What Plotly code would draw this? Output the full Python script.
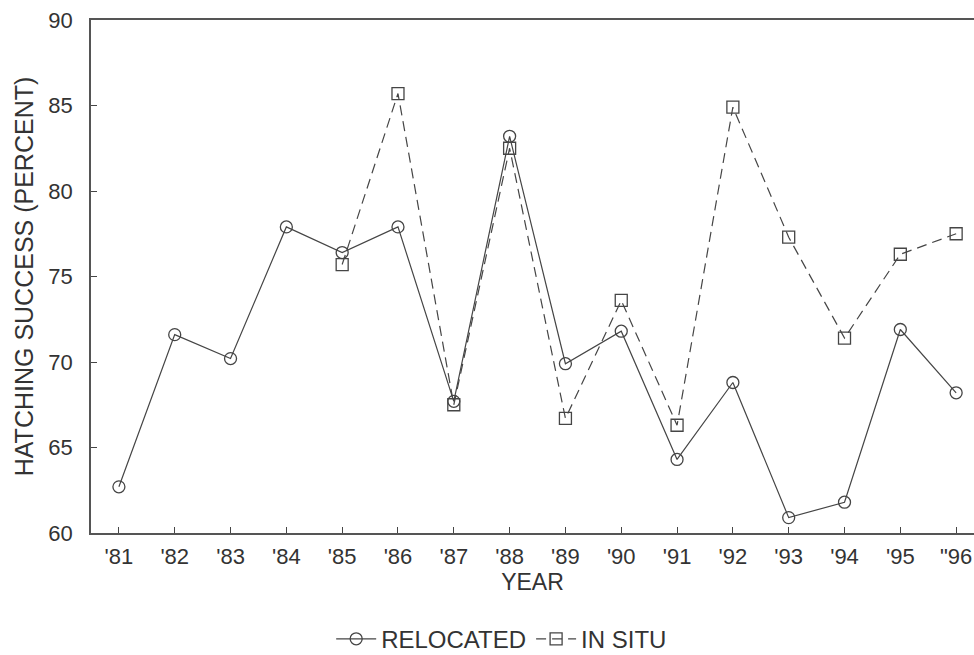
import plotly.graph_objects as go

# Nest years (two-digit) and hatching success, percent
years = [81, 82, 83, 84, 85, 86, 87, 88, 89, 90, 91, 92, 93, 94, 95, 96]
year_labels = ["'81", "'82", "'83", "'84", "'85", "'86", "'87", "'88",
               "'89", "'90", "'91", "'92", "'93", "'94", "'95", '"96']

relocated = [62.7, 71.6, 70.2, 77.9, 76.4, 77.9, 67.7, 83.2,
             69.9, 71.8, 64.3, 68.8, 60.9, 61.8, 71.9, 68.2]

in_situ_years = [85, 86, 87, 88, 89, 90, 91, 92, 93, 94, 95, 96]
in_situ = [75.7, 85.7, 67.5, 82.5, 66.7, 73.6, 66.3, 84.9, 77.3, 71.4, 76.3, 77.5]

INK = "#454545"
TEXT = "#333333"
FONT = "Liberation Sans, Arial, sans-serif"

fig = go.Figure()

fig.add_trace(go.Scatter(
    x=years, y=relocated, name="RELOCATED", mode="lines+markers",
    line=dict(color=INK, width=1.2),
    marker=dict(symbol="circle-open", size=12, color=INK, line=dict(width=1.3, color=INK)),
))

fig.add_trace(go.Scatter(
    x=in_situ_years, y=in_situ, name="IN SITU", mode="lines+markers",
    line=dict(color=INK, width=1.2, dash="10px,6px"),
    marker=dict(symbol="square-open", size=12, color=INK, line=dict(width=1.3, color=INK)),
))

fig.update_layout(
    width=974, height=655,
    margin=dict(l=91, r=0, t=20, b=122, autoexpand=False),
    paper_bgcolor="white", plot_bgcolor="white",
    font=dict(family=FONT, color=TEXT, size=22),
    showlegend=True,
    legend=dict(
        orientation="h", x=0.272, xanchor="left", y=-0.207, yanchor="middle",
        font=dict(size=24, color=TEXT), bgcolor="rgba(0,0,0,0)",
        itemwidth=40, tracegroupgap=0,
    ),
)

fig.update_xaxes(
    range=[80.5, 96.32], tickmode="array", tickvals=years, ticktext=year_labels,
    ticks="inside", ticklen=6, tickwidth=1.2, tickcolor=INK,
    showline=True, linecolor="#555555", linewidth=1.6, mirror=True,
    showgrid=False, zeroline=False, automargin=False,
    tickfont=dict(size=22, color=TEXT), ticklabelstandoff=3,
    title=dict(text="YEAR", font=dict(size=23, color=TEXT), standoff=2),
)

fig.update_yaxes(
    range=[60, 90], tickmode="linear", tick0=60, dtick=5,
    ticks="inside", ticklen=6, tickwidth=1.2, tickcolor=INK,
    showline=True, linecolor="#555555", linewidth=1.6,
    showgrid=False, zeroline=False, automargin=False,
    tickfont=dict(size=22, color=TEXT), ticklabelstandoff=12,
    title=dict(text="HATCHING SUCCESS (PERCENT)", font=dict(size=25, color=TEXT), standoff=8),
)

fig.write_html("out.html")
